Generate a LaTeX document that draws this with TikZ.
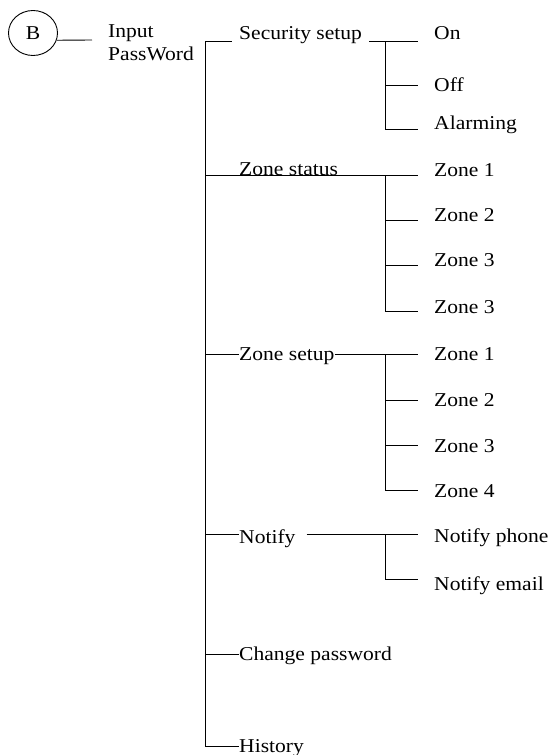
\documentclass[tikz,border=0pt]{standalone}
\usepackage{fontspec}
\setmainfont{Liberation Serif}[FakeStretch=1.1]
\usetikzlibrary{shapes.geometric}
\begin{document}
\begin{tikzpicture}[x=1pt,y=-1pt,
  wire/.style={line width=0.9pt,black},
  lbl/.style={anchor=base west,inner sep=0pt,font=\fontsize{19.6}{23}\selectfont}]
\useasboundingbox (0,0) rectangle (552,755);

% start node
\node[draw,ellipse,line width=0.9pt,minimum width=49pt,minimum height=45pt,inner sep=0pt,
      font=\fontsize{19.6}{23}\selectfont] (B) at (33,33) {B};
\node[lbl] (inp) at (108,37) {Input};
\node[lbl] (pw) at (108,60) {PassWord};
\coordinate (bEnd) at (92,40);
\draw[wire] (B.-17) -- (bEnd);

% spine
\coordinate (s1) at (205,41);
\coordinate (s2) at (205,175);
\coordinate (s3) at (205,354);
\coordinate (s4) at (205,534);
\coordinate (s5) at (205,654);
\coordinate (s6) at (205,746);
\draw[wire] (s1) -- (s6);

% level 1 labels
\node[lbl] (sec) at (239,39) {Security setup};
\node[lbl] (zst) at (239,175) {Zone status};
\node[lbl] (zsu) at (239,360) {Zone setup};
\node[lbl] (ntf) at (239,543) {Notify};
\node[lbl] (chp) at (239,660) {Change password};
\node[lbl] (his) at (239,752) {History};

% level 2 labels
\node[lbl] (r11) at (434,39) {On};
\node[lbl] (r12) at (434,91) {Off};
\node[lbl] (r13) at (434,129) {Alarming};

\node[lbl] (r21) at (434,176) {Zone 1};
\node[lbl] (r22) at (434,221) {Zone 2};
\node[lbl] (r23) at (434,266) {Zone 3};
\node[lbl] (r24) at (434,313) {Zone 3};

\node[lbl] (r31) at (434,360) {Zone 1};
\node[lbl] (r32) at (434,406) {Zone 2};
\node[lbl] (r33) at (434,452) {Zone 3};
\node[lbl] (r34) at (434,497) {Zone 4};

\node[lbl] (r41) at (434,542) {Notify phone};
\node[lbl] (r42) at (434,590) {Notify email};

% sub junctions
\coordinate (a1) at (385,41);  \coordinate (a2) at (385,85);  \coordinate (a3) at (385,129);
\coordinate (b1) at (385,175); \coordinate (b2) at (385,220); \coordinate (b3) at (385,265); \coordinate (b4) at (385,311);
\coordinate (c1) at (385,354); \coordinate (c2) at (385,400); \coordinate (c3) at (385,445); \coordinate (c4) at (385,490);
\coordinate (d1) at (385,534); \coordinate (d2) at (385,579);

% security setup
\draw[wire,shorten >=7pt] (s1) -- (sec.west |- s1);
\draw[wire,shorten <=7pt,shorten >=16pt] (sec.east |- s1) -- (r11.west |- s1);
\draw[wire] (a1) -- (a3);
\draw[wire,shorten >=16pt] (a2) -- (r12.west |- a2);
\draw[wire,shorten >=16pt] (a3) -- (r13.west |- a3);

% zone status
\draw[wire,shorten >=16pt] (s2) -- (r21.west |- s2);
\draw[wire] (b1) -- (b4);
\draw[wire,shorten >=16pt] (b2) -- (r22.west |- b2);
\draw[wire,shorten >=16pt] (b3) -- (r23.west |- b3);
\draw[wire,shorten >=16pt] (b4) -- (r24.west |- b4);

% zone setup
\draw[wire] (s3) -- (zsu.west |- s3);
\draw[wire,shorten >=16pt] (zsu.east |- s3) -- (r31.west |- s3);
\draw[wire] (c1) -- (c4);
\draw[wire,shorten >=16pt] (c2) -- (r32.west |- c2);
\draw[wire,shorten >=16pt] (c3) -- (r33.west |- c3);
\draw[wire,shorten >=16pt] (c4) -- (r34.west |- c4);

% notify
\draw[wire] (s4) -- (ntf.west |- s4);
\draw[wire,shorten <=11pt,shorten >=16pt] (ntf.east |- s4) -- (r41.west |- s4);
\draw[wire] (d1) -- (d2);
\draw[wire,shorten >=16pt] (d2) -- (r42.west |- d2);

% change password, history
\draw[wire] (s5) -- (chp.west |- s5);
\draw[wire] (s6) -- (his.west |- s6);
\end{tikzpicture}
\end{document}
